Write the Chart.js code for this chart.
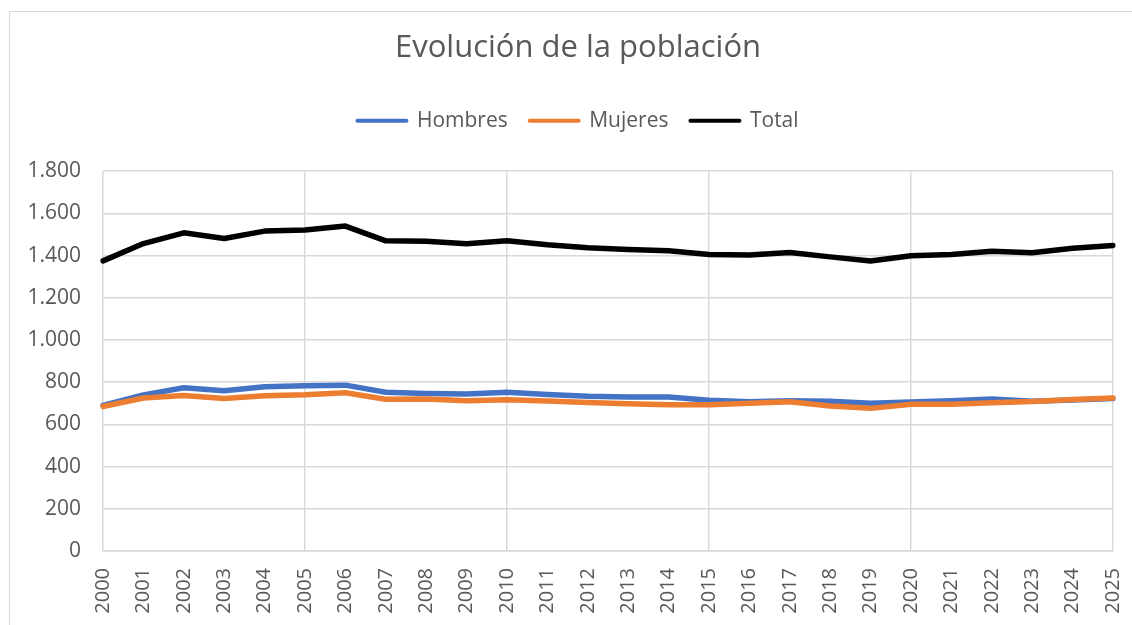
<!DOCTYPE html>
<html>
<head>
<meta charset="utf-8">
<script src="https://cdn.jsdelivr.net/npm/chart.js@4"></script>
<style>
    html, body { margin: 0; padding: 0; background: #fff; overflow: hidden; }
    #frame {
        position: absolute; left: 9px; top: 11px;
        width: 1140px; height: 640px;
        border: 1px solid #d9d9d9;
    }
    #populationChart { position: absolute; left: 0; top: 0; }
</style>
</head>
<body>
<div id="frame"></div>
<canvas id="populationChart" width="1132" height="625"></canvas>
<script>
const years = ['2000', '2001', '2002', '2003', '2004', '2005', '2006', '2007', '2008', '2009',
    '2010', '2011', '2012', '2013', '2014', '2015', '2016', '2017', '2018', '2019',
    '2020', '2021', '2022', '2023', '2024', '2025'];
const hombres = [690, 740, 774, 760, 778, 783, 786, 752, 747, 744, 752, 742, 733, 730, 730,
    715, 707, 712, 710, 700, 706, 712, 720, 710, 716, 723];
const mujeres = [685, 725, 737, 723, 736, 740, 750, 719, 720, 712, 717, 711, 704, 698, 693,
    693, 700, 707, 687, 676, 696, 696, 703, 708, 718, 725];
const total = [1375, 1457, 1508, 1481, 1516, 1521, 1540, 1470, 1468, 1456, 1470, 1451, 1437,
    1429, 1423, 1405, 1403, 1415, 1394, 1374, 1399, 1405, 1421, 1413, 1435, 1448];
const yTickLabels = ['0', '200', '400', '600', '800', '1.000', '1.200', '1.400', '1.600', '1.800'];

document.addEventListener('DOMContentLoaded', function () {
    const ctx = document.getElementById('populationChart').getContext('2d');
    const textColor = '#595959';
    const gridColor = '#d9d9d9';

    // empty axes used only as spacers (legend -> plot gap, right margin)
    const spacer = (size, vertical) => ({
        display: true,
        grid: { display: false },
        border: { display: false },
        ticks: { display: false },
        afterFit: function (scale) {
            if (vertical) scale.width = size; else scale.height = size;
        }
    });

    new Chart(ctx, {
        type: 'line',
        data: {
            labels: years,
            datasets: [{
                label: 'Hombres',
                data: hombres,
                borderColor: '#4472C4',
                backgroundColor: '#4472C4',
                xAxisID: 'x',
                yAxisID: 'y',
                order: 3
            }, {
                label: 'Mujeres',
                data: mujeres,
                borderColor: '#ED7D31',
                backgroundColor: '#ED7D31',
                xAxisID: 'x',
                yAxisID: 'y',
                order: 2
            }, {
                label: 'Total',
                data: total,
                borderColor: '#000000',
                backgroundColor: '#000000',
                xAxisID: 'x',
                yAxisID: 'y',
                order: 1
            }]
        },
        options: {
            responsive: false,
            animation: false,
            layout: { padding: { top: 0, left: 27, right: 3, bottom: 0 } },
            elements: {
                line: { borderWidth: 5.5, tension: 0, borderJoinStyle: 'round', borderCapStyle: 'round' },
                point: { radius: 0 }
            },
            plugins: {
                tooltip: { enabled: false },
                title: {
                    display: true,
                    text: 'Evolución de la población',
                    color: textColor,
                    font: { family: 'Open Sans', size: 31, weight: 'normal' },
                    padding: { top: 30, bottom: 21 }
                },
                legend: {
                    position: 'top',
                    labels: {
                        color: textColor,
                        font: { family: 'Open Sans', size: 21 },
                        usePointStyle: true,
                        pointStyleWidth: 49,
                        padding: 22,
                        sort: (a, b) => a.datasetIndex - b.datasetIndex,
                        generateLabels: function (chart) {
                            const items = Chart.defaults.plugins.legend.labels.generateLabels(chart);
                            items.forEach(item => {
                                item.pointStyle = 'line';
                                item.lineWidth = 4;
                                item.lineCap = 'round';
                            });
                            return items;
                        }
                    }
                }
            },
            scales: {
                x: {
                    grid: {
                        drawTicks: false,
                        lineWidth: 1.5,
                        color: (c) => (c.index % 5 === 0 ? gridColor : 'rgba(0,0,0,0)')
                    },
                    border: { color: gridColor, width: 1.5 },
                    ticks: {
                        color: textColor,
                        font: { family: 'Open Sans', size: 20 },
                        autoSkip: false,
                        minRotation: 90,
                        maxRotation: 90,
                        padding: 17
                    },
                    afterFit: function (scale) {
                        scale.height = 74;
                        scale.paddingLeft = 0;
                        scale.paddingRight = 0;
                    }
                },
                y: {
                    min: 0,
                    max: 1800,
                    grid: { drawTicks: false, lineWidth: 1.5, color: gridColor },
                    border: { display: false },
                    ticks: {
                        stepSize: 200,
                        color: textColor,
                        font: { family: 'Open Sans', size: 21 },
                        padding: 22,
                        callback: (value, index) => yTickLabels[index]
                    },
                    afterFit: function (scale) { scale.width = 76; }
                },
                gapTop: Object.assign({ type: 'category', position: 'top' }, spacer(30, false)),
                gapRight: Object.assign({ type: 'linear', position: 'right' }, spacer(16, true))
            }
        }
    });
});
</script>
</body>
</html>
